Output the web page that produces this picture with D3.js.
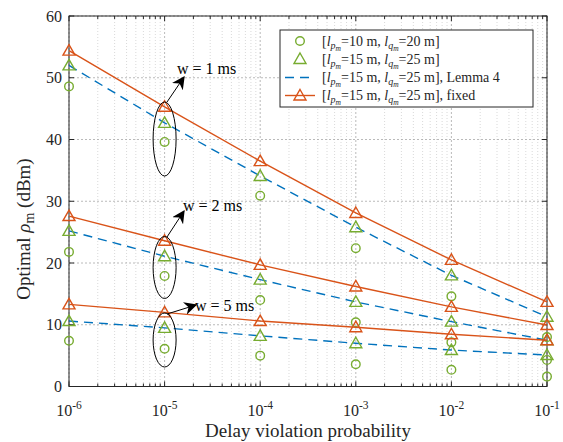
<!DOCTYPE html>
<meta charset="utf-8">
<style>
body { margin: 0; background: #fff; }
svg text { font-family: "Liberation Serif", "Times New Roman", serif; }
</style>
<svg id="chart" width="563" height="442"></svg>
<script src="https://d3js.org/d3.v7.min.js"></script>
<script>
// delay violation probabilities (x)
var probs = [1e-6, 1e-5, 1e-4, 1e-3, 1e-2, 1e-1]
var yTicks = [0, 10, 20, 30, 40, 50, 60]

// w = 1 ms
var w1Fixed = [54.4, 45.3, 36.5, 28.1, 20.5, 13.7]
var w1Tri = [52.0, 42.7, 34.1, 25.8, 18.0, 11.3]
var w1Circ = [48.6, 39.6, 30.9, 22.4, 14.6, 8.0]
// w = 2 ms
var w2Fixed = [27.6, 23.6, 19.7, 16.2, 12.9, 9.95]
var w2Tri = [25.2, 21.1, 17.3, 13.7, 10.5, 7.5]
var w2Circ = [21.8, 17.9, 14.0, 10.4, 7.15, 4.3]
// w = 5 ms
var w5Fixed = [13.3, 12.0, 10.6, 9.6, 8.45, 7.5]
var w5Tri = [10.6, 9.5, 8.2, 7.0, 5.9, 5.1]
var w5Circ = [7.4, 6.1, 5.0, 3.6, 2.7, 1.6]

var red = "#D95319", green = "#77AC30", blue = "#0072BD"

var svg = d3.select("#chart")
var L = 69, R = 547, T = 16, B = 386.5
var x = d3.scaleLog().domain([1e-6, 1e-1]).range([L, R])
var y = d3.scaleLinear().domain([0, 60]).range([B, T])

var defs = svg.append("defs")
defs.append("marker").attr("id", "arr")
  .attr("viewBox", "0 0 10 10").attr("refX", 9).attr("refY", 5)
  .attr("markerWidth", 13).attr("markerHeight", 13)
  .attr("markerUnits", "userSpaceOnUse").attr("orient", "auto")
  .append("path").attr("d", "M0,0 L10,5 L0,10 L3,5 Z").attr("fill", "#000")

// minor log values
var minors = []
for (var e = -6; e < -1; e++) {
  for (var k = 2; k <= 9; k++) minors.push(k * Math.pow(10, e))
}

// grid
var g = svg.append("g")
g.selectAll(".minor").data(minors).enter().append("line")
  .attr("x1", d => x(d)).attr("x2", d => x(d)).attr("y1", T).attr("y2", B)
  .attr("stroke", "#cfcfcf").attr("stroke-width", 0.8).attr("stroke-dasharray", "1,2")
g.selectAll(".vmaj").data(probs).enter().append("line")
  .attr("x1", d => x(d)).attr("x2", d => x(d)).attr("y1", T).attr("y2", B)
  .attr("stroke", "#a8a8a8").attr("stroke-width", 0.8).attr("stroke-dasharray", "2,2")
g.selectAll(".hmaj").data(yTicks).enter().append("line")
  .attr("x1", L).attr("x2", R).attr("y1", d => y(d)).attr("y2", d => y(d))
  .attr("stroke", "#a8a8a8").attr("stroke-width", 0.8).attr("stroke-dasharray", "2,2")

// axes box and inward ticks
var ax = svg.append("g").attr("stroke", "#262626").attr("stroke-width", 1)
ax.append("rect").attr("x", L).attr("y", T).attr("width", R - L).attr("height", B - T).attr("fill", "none")
probs.forEach(function(d) {
  ax.append("line").attr("x1", x(d)).attr("x2", x(d)).attr("y1", B).attr("y2", B - 5)
  ax.append("line").attr("x1", x(d)).attr("x2", x(d)).attr("y1", T).attr("y2", T + 5)
})
minors.forEach(function(d) {
  ax.append("line").attr("x1", x(d)).attr("x2", x(d)).attr("y1", B).attr("y2", B - 3)
  ax.append("line").attr("x1", x(d)).attr("x2", x(d)).attr("y1", T).attr("y2", T + 3)
})
yTicks.forEach(function(d) {
  ax.append("line").attr("x1", L).attr("x2", L + 5).attr("y1", y(d)).attr("y2", y(d))
  ax.append("line").attr("x1", R).attr("x2", R - 5).attr("y1", y(d)).attr("y2", y(d))
})

// tick labels
svg.selectAll(".ytl").data(yTicks).enter().append("text")
  .attr("x", L - 7).attr("y", d => y(d) + 5.5).attr("text-anchor", "end")
  .attr("font-size", 16).attr("fill", "#262626").text(d => d)
probs.forEach(function(d) {
  var t = svg.append("text").attr("x", x(d)).attr("y", 416).attr("text-anchor", "middle")
    .attr("font-size", 16).attr("fill", "#262626")
  t.append("tspan").text("10")
  t.append("tspan").attr("dy", -7).attr("font-size", 11.5).text("-" + Math.round(-Math.log10(d)))
})

// axis labels
svg.append("text").attr("x", 308).attr("y", 437).attr("text-anchor", "middle")
  .attr("font-size", 19).attr("fill", "#262626").text("Delay violation probability")
var yl = svg.append("text").attr("transform", "translate(30,229) rotate(-90)")
  .attr("text-anchor", "middle").attr("font-size", 19).attr("fill", "#262626")
yl.append("tspan").text("Optimal ")
yl.append("tspan").attr("font-style", "italic").text("ρ")
yl.append("tspan").attr("dy", 4).attr("font-size", 14).text("m")
yl.append("tspan").attr("dy", -4).text(" (dBm)")

// series
var tri = "M0,-6 L6,4.5 L-6,4.5 Z"
var line = d3.line().x((d, i) => x(probs[i])).y(d => y(d))
var plot = svg.append("g")

function drawGroup(fixed, triv, circ) {
  plot.append("path").datum(triv).attr("d", line).attr("fill", "none")
    .attr("stroke", blue).attr("stroke-width", 1.4).attr("stroke-dasharray", "9,6")
  plot.append("path").datum(fixed).attr("d", line).attr("fill", "none")
    .attr("stroke", red).attr("stroke-width", 1.4)
  plot.selectAll(null).data(circ).enter().append("circle")
    .attr("cx", (d, i) => x(probs[i])).attr("cy", d => y(d)).attr("r", 4.3)
    .attr("fill", "none").attr("stroke", green).attr("stroke-width", 1.4)
  plot.selectAll(null).data(triv).enter().append("path")
    .attr("d", tri).attr("transform", (d, i) => "translate(" + x(probs[i]) + "," + y(d) + ")")
    .attr("fill", "none").attr("stroke", green).attr("stroke-width", 1.4)
  plot.selectAll(null).data(fixed).enter().append("path")
    .attr("d", tri).attr("transform", (d, i) => "translate(" + x(probs[i]) + "," + y(d) + ")")
    .attr("fill", "none").attr("stroke", red).attr("stroke-width", 1.4)
}
drawGroup(w1Fixed, w1Tri, w1Circ)
drawGroup(w2Fixed, w2Tri, w2Circ)
drawGroup(w5Fixed, w5Tri, w5Circ)

// annotations (ellipse + arrow + label)
var notes = [
  {label: "w = 1 ms", cy: 139, ry: 37, ax: 167, ay: 102, bx: 184, by: 77, tx: 177, ty: 74},
  {label: "w = 2 ms", cy: 267.5, ry: 31, ax: 167, ay: 237, bx: 184, by: 211, tx: 183, ty: 211},
  {label: "w = 5 ms", cy: 340, ry: 27, ax: 167, ay: 314, bx: 196, by: 305, tx: 195, ty: 311}
]
notes.forEach(function(n) {
  svg.append("ellipse").attr("cx", x(1e-5)).attr("cy", n.cy).attr("rx", 11.5).attr("ry", n.ry)
    .attr("fill", "none").attr("stroke", "#000").attr("stroke-width", 1)
  svg.append("line").attr("x1", n.ax).attr("y1", n.ay).attr("x2", n.bx).attr("y2", n.by)
    .attr("stroke", "#000").attr("stroke-width", 1).attr("marker-end", "url(#arr)")
  svg.append("text").attr("x", n.tx).attr("y", n.ty).attr("font-size", 16).attr("fill", "#000").text(n.label)
})

// legend
var lg = svg.append("g")
lg.append("rect").attr("x", 280).attr("y", 30).attr("width", 253).attr("height", 77)
  .attr("fill", "#fff").attr("stroke", "#262626").attr("stroke-width", 1)
var legItems = [
  {a: "10", b: "20", tail: "", kind: "circle"},
  {a: "15", b: "25", tail: "", kind: "tri"},
  {a: "15", b: "25", tail: ", Lemma 4", kind: "dash"},
  {a: "15", b: "25", tail: ", fixed", kind: "redtri"}
]
var legY = [41, 59, 77.5, 95.5]
legItems.forEach(function(it, i) {
  var cy = legY[i]
  if (it.kind == "circle") {
    lg.append("circle").attr("cx", 300).attr("cy", cy).attr("r", 4.3)
      .attr("fill", "none").attr("stroke", green).attr("stroke-width", 1.4)
  } else if (it.kind == "tri") {
    lg.append("path").attr("d", tri).attr("transform", "translate(300," + cy + ")")
      .attr("fill", "none").attr("stroke", green).attr("stroke-width", 1.4)
  } else if (it.kind == "dash") {
    lg.append("line").attr("x1", 285).attr("x2", 315).attr("y1", cy).attr("y2", cy)
      .attr("stroke", blue).attr("stroke-width", 1.4).attr("stroke-dasharray", "9,6")
  } else {
    lg.append("line").attr("x1", 285).attr("x2", 315).attr("y1", cy).attr("y2", cy)
      .attr("stroke", red).attr("stroke-width", 1.4)
    lg.append("path").attr("d", tri).attr("transform", "translate(300," + cy + ")")
      .attr("fill", "none").attr("stroke", red).attr("stroke-width", 1.4)
  }
  var t = lg.append("text").attr("x", 322).attr("y", cy + 4.5).attr("font-size", 14).attr("fill", "#262626")
  t.append("tspan").text("[")
  t.append("tspan").attr("font-style", "italic").text("l")
  t.append("tspan").attr("font-style", "italic").attr("font-size", 10).attr("dy", 3).text("p")
  t.append("tspan").attr("font-style", "italic").attr("font-size", 7.5).attr("dy", 2).text("m")
  t.append("tspan").attr("dy", -5).text("=" + it.a + " m, ")
  t.append("tspan").attr("font-style", "italic").text("l")
  t.append("tspan").attr("font-style", "italic").attr("font-size", 10).attr("dy", 3).text("q")
  t.append("tspan").attr("font-style", "italic").attr("font-size", 7.5).attr("dy", 2).text("m")
  t.append("tspan").attr("dy", -5).text("=" + it.b + " m]" + it.tail)
})
</script>
